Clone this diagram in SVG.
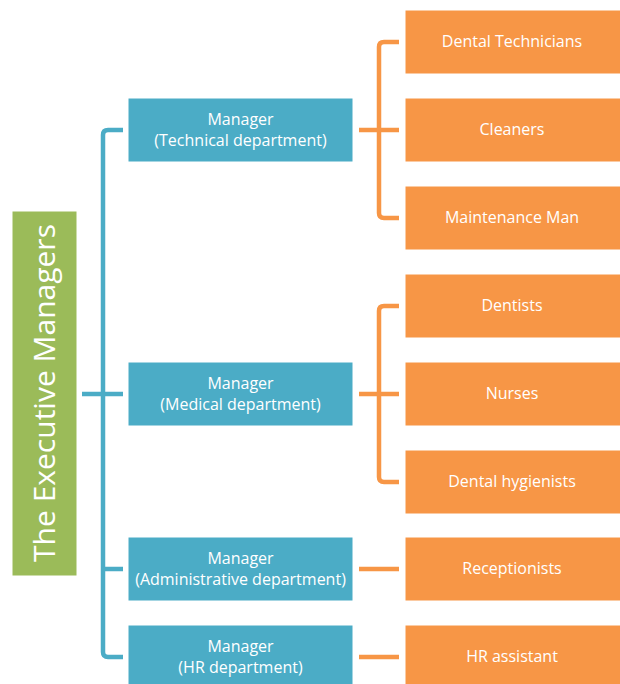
<svg xmlns="http://www.w3.org/2000/svg" width="620" height="684" viewBox="0 0 620 684">
<style>
.b{fill:#4BACC6;stroke:#FFFFFF;stroke-width:1}
.o{fill:#F79646;stroke:#FFFFFF;stroke-width:1}
.t{font-family:"Open Sans","Liberation Sans",sans-serif;font-size:16px;fill:#FFFFFF;text-anchor:middle}
.cb{fill:none;stroke:#4BACC6;stroke-width:4.5;stroke-linejoin:round}
.co{fill:none;stroke:#F79646;stroke-width:4.5;stroke-linejoin:round}
</style>
<rect width="620" height="684" fill="#FFFFFF"/>
<g id="connectors">
<path class="cb" d="M123,130 H108 Q103,130 103,135 V652 Q103,657 108,657 H123"/>
<path class="cb" d="M82,394 H123 M103,569 H123"/>
<path class="co" d="M399,42 H384 Q379,42 379,47 V213 Q379,218 384,218 H399 M359,130 H399"/>
<path class="co" d="M399,306 H384 Q379,306 379,311 V477 Q379,482 384,482 H399 M359,394 H399"/>
<path class="co" d="M359,569 H399 M359,657 H399"/>
</g>
<g id="root">
<rect x="12" y="211" width="65" height="365" fill="#9BBB59" stroke="#FFFFFF" stroke-width="1"/>
<text transform="translate(55,393) rotate(-90)" style="font-family:'Open Sans','Liberation Sans',sans-serif;font-size:30px;fill:#FFFFFF;text-anchor:middle">The Executive Managers</text>
</g>
<g id="m-technical"><rect class="b" x="128" y="98" width="225" height="64"/><text class="t" x="240.5" y="125">Manager</text><text class="t" x="240.5" y="146">(Technical department)</text></g>
<g id="m-medical"><rect class="b" x="128" y="362" width="225" height="64"/><text class="t" x="240.5" y="389">Manager</text><text class="t" x="240.5" y="410">(Medical department)</text></g>
<g id="m-admin"><rect class="b" x="128" y="537" width="225" height="64"/><text class="t" x="240.5" y="564">Manager</text><text class="t" x="240.5" y="585">(Administrative department)</text></g>
<g id="m-hr"><rect class="b" x="128" y="625" width="225" height="64"/><text class="t" x="240.5" y="652">Manager</text><text class="t" x="240.5" y="673">(HR department)</text></g>
<g id="dental-technicians"><rect class="o" x="405" y="10" width="216" height="64"/><text class="t" x="512" y="47">Dental Technicians</text></g>
<g id="cleaners"><rect class="o" x="405" y="98" width="216" height="64"/><text class="t" x="512" y="135">Cleaners</text></g>
<g id="maintenance"><rect class="o" x="405" y="186" width="216" height="64"/><text class="t" x="512" y="223">Maintenance Man</text></g>
<g id="dentists"><rect class="o" x="405" y="274" width="216" height="64"/><text class="t" x="512" y="311">Dentists</text></g>
<g id="nurses"><rect class="o" x="405" y="362" width="216" height="64"/><text class="t" x="512" y="399">Nurses</text></g>
<g id="hygienists"><rect class="o" x="405" y="450" width="216" height="64"/><text class="t" x="512" y="487">Dental hygienists</text></g>
<g id="receptionists"><rect class="o" x="405" y="537" width="216" height="64"/><text class="t" x="512" y="574">Receptionists</text></g>
<g id="hr-assistant"><rect class="o" x="405" y="625" width="216" height="64"/><text class="t" x="512" y="662">HR assistant</text></g>
</svg>
